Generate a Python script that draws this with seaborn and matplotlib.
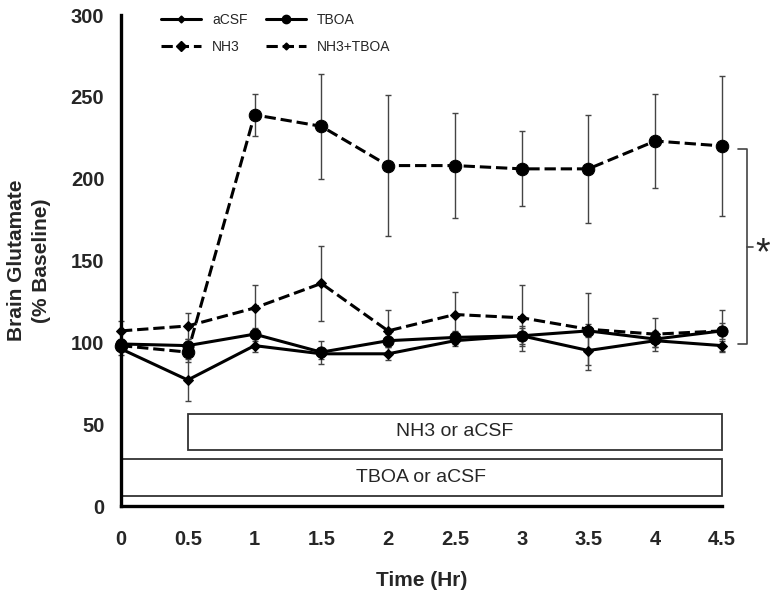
import matplotlib
matplotlib.use("Agg")
import matplotlib.pyplot as plt
from matplotlib.lines import Line2D
from matplotlib.patches import Rectangle
import numpy as np
import pandas as pd
import seaborn as sns

# time points (hr)
time_hr = [0, 0.5, 1, 1.5, 2, 2.5, 3, 3.5, 4, 4.5]

# brain glutamate, % baseline (mean and SE)
acsf = [96, 77, 98, 93, 93, 101, 104, 95, 101, 98]
acsf_se = [4, 13, 4, 3, 4, 3, 5, 12, 4, 3]
tboa = [99, 98, 105, 94, 101, 103, 104, 107, 102, 107]
tboa_se = [3, 4, 4, 7, 4, 4, 6, 4, 5, 5]
nh3 = [98, 94, 239, 232, 208, 208, 206, 206, 223, 220]
nh3_se = [3, 6, 13, 32, 43, 32, 23, 33, 29, 43]
nh3_tboa = [107, 110, 121, 136, 107, 117, 115, 108, 105, 107]
nh3_tboa_se = [6, 8, 14, 23, 13, 14, 20, 22, 10, 13]

x_ticks = [0, 0.5, 1, 1.5, 2, 2.5, 3, 3.5, 4, 4.5]
x_tick_labels = ["0", "0.5", "1", "1.5", "2", "2.5", "3", "3.5", "4", "4.5"]
y_ticks = [0, 50, 100, 150, 200, 250, 300]

# treatment bars: (label, start, end, low, high)
treat_boxes = [
    ("NH3 or aCSF", 0.5, 4.5, 34, 56.5),
    ("TBOA or aCSF", 0, 4.5, 6, 29),
]

sns.set_style("white")
plt.rcParams["font.family"] = ["Liberation Sans", "DejaVu Sans"]

fig = plt.figure(figsize=(7.79, 5.93), dpi=100)
ax = fig.add_axes([0.1553, 0.1467, 0.7715, 0.828])

series = [
    ("aCSF", acsf, acsf_se, "-", "D", 5.5),
    ("TBOA", tboa, tboa_se, "-", "o", 8),
    ("NH3", nh3, nh3_se, "--", "o", 9),
    ("NH3+TBOA", nh3_tboa, nh3_tboa_se, "--", "D", 5),
]

for name, vals, se, ls, mk, ms in series:
    ax.errorbar(time_hr, vals, yerr=se, fmt="none", ecolor="#444444",
                elinewidth=1.0, capsize=2.5, capthick=1.0, clip_on=False, zorder=2)
    df = pd.DataFrame({"time": time_hr, "value": vals})
    sns.lineplot(data=df, x="time", y="value", ax=ax, color="black", linestyle=ls,
                 linewidth=2.2, marker=mk, markersize=ms, markeredgecolor="black",
                 clip_on=False, zorder=3)

for label, x0, x1, y0, y1 in treat_boxes:
    ax.add_patch(Rectangle((x0, y0), x1 - x0, y1 - y0, facecolor="white",
                           edgecolor="#333333", linewidth=1.3, clip_on=False, zorder=1))
    ax.text((x0 + x1) / 2, (y0 + y1) / 2, label, ha="center", va="center",
            fontsize=14, zorder=4)

# significance bracket between NH3 and the other groups at the last time point
bx, by0, by1 = 4.69, nh3[-1] - 2, tboa[-1] - 8
ax.plot([4.62, bx, bx, 4.62], [by0, by0, by1, by1], color="#444444", lw=1.2,
        clip_on=False)
ax.plot([bx, 4.73], [(by0 + by1) / 2] * 2, color="#444444", lw=1.2, clip_on=False)
ax.text(4.75, (by0 + by1) / 2 - 5, "*", fontsize=27, ha="left", va="center")

ax.set_xlim(0, 4.5)
ax.set_ylim(0, 300)
ax.set_xticks(x_ticks)
ax.set_xticklabels(x_tick_labels)
ax.set_yticks(y_ticks)
for lab in ax.get_xticklabels() + ax.get_yticklabels():
    lab.set_fontweight("bold")
    lab.set_fontsize(14.5)
ax.tick_params(axis="x", direction="inout", length=7, width=2, pad=14)
ax.tick_params(axis="y", direction="out", length=5, width=2, pad=7)
sns.despine(ax=ax)
for side in ("left", "bottom"):
    ax.spines[side].set_linewidth(2.4)
    ax.spines[side].set_color("black")

ax.set_xlabel("Time (Hr)", fontsize=15, fontweight="bold")
ax.set_ylabel("Brain Glutamate\n(% Baseline)", fontsize=15, fontweight="bold",
              linespacing=1.35)
ax.xaxis.set_label_coords(0.5, -0.132)
ax.yaxis.set_label_coords(-0.117, 0.5)

# legend: filled column-wise, so order gives rows aCSF/TBOA and NH3/NH3+TBOA
handles = [
    Line2D([], [], color="black", ls="-", lw=2.2, marker="D", ms=3.5, label="aCSF"),
    Line2D([], [], color="black", ls="--", lw=2.2, marker="D", ms=5.5, label="NH3"),
    Line2D([], [], color="black", ls="-", lw=2.2, marker="o", ms=6, label="TBOA"),
    Line2D([], [], color="black", ls="--", lw=2.2, marker="D", ms=3.5, label="NH3+TBOA"),
]
ax.legend(handles=handles, ncol=2, loc="upper left", bbox_to_anchor=(0.066, 1.005),
          frameon=False, fontsize=10, handlelength=2.9, columnspacing=1.3,
          handletextpad=0.8, labelspacing=0.95, borderpad=0, borderaxespad=0)

fig.savefig("out.png", dpi=100)
